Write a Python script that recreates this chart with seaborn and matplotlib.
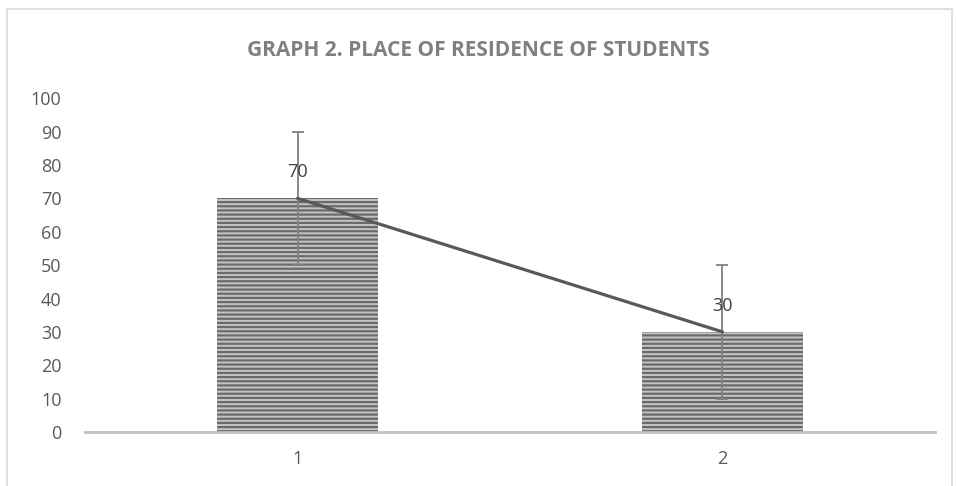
import matplotlib
matplotlib.use("Agg")
import matplotlib.pyplot as plt
import seaborn as sns
from matplotlib.patches import Rectangle

categories = ["1", "2"]
values = [70, 30]
errors = [20, 20]
y_ticks = [0, 10, 20, 30, 40, 50, 60, 70, 80, 90, 100]
title = "GRAPH 2. PLACE OF RESIDENCE OF STUDENTS"

sns.set_style("white")
plt.rcParams["font.family"] = ["Open Sans", "DejaVu Sans"]
plt.rcParams["hatch.linewidth"] = 1.6

fig = plt.figure(figsize=(9.56, 4.86), dpi=100)
ax = fig.add_axes([0.089, 0.111, 0.889, 0.687])

# outer chart border
fig.patches.append(Rectangle((7 / 956, -0.05), 945 / 956, 1.05 - 9 / 486,
                             transform=fig.transFigure, fill=False,
                             edgecolor="#d9d9d9", linewidth=1.2))

sns.barplot(x=categories, y=values, width=0.38, color="#c4c4c4",
            saturation=1, ax=ax)
for p in ax.patches:
    p.set_hatch("----")
    p.set_edgecolor("#6a6a6a")
    p.set_linewidth(0)

ax.errorbar(range(len(values)), values, yerr=errors, fmt="none",
            ecolor="#808080", elinewidth=1.3, capsize=4.5, capthick=1.3)
ax.plot(range(len(values)), values, color="#595959", linewidth=2.3)

for i, v in enumerate(values):
    ax.annotate(str(v), (i, v), xytext=(0, 19), textcoords="offset points",
                ha="center", va="center", fontsize=13, color="#404040")

ax.set_xlim(-0.5, 1.5)
ax.set_ylim(0, 100)
ax.set_yticks(y_ticks)
ax.tick_params(axis="y", length=0, pad=17, labelsize=13, labelcolor="#595959")
ax.tick_params(axis="x", length=0, pad=13, labelsize=13, labelcolor="#595959")
for s in ["top", "right", "left"]:
    ax.spines[s].set_visible(False)
ax.spines["bottom"].set_color("#bfbfbf")
ax.spines["bottom"].set_linewidth(2)

fig.text(0.5, 0.897, title, ha="center", va="center", fontsize=15,
         fontweight="bold", color="#808080")

fig.savefig("out.png", dpi=100)
